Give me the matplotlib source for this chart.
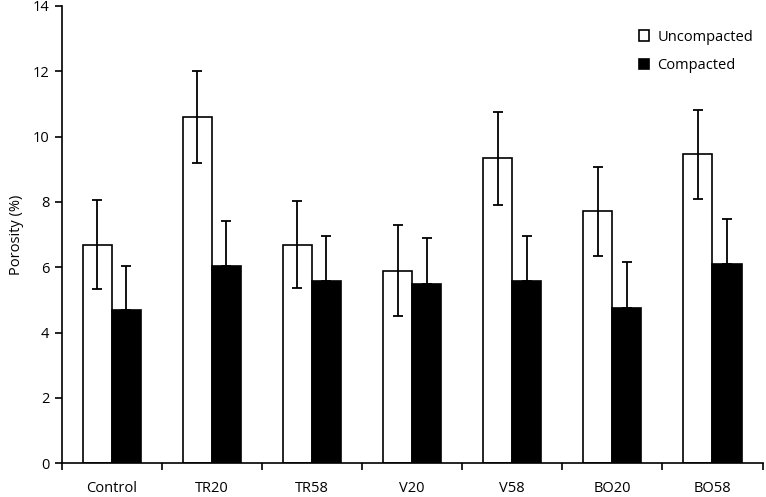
import numpy as np
import matplotlib
matplotlib.use("Agg")
import matplotlib.pyplot as plt

# data
categories = ["Control", "TR20", "TR58", "V20", "V58", "BO20", "BO58"]
uncompacted = [6.69, 10.60, 6.69, 5.90, 9.34, 7.71, 9.46]
uncompacted_err = [1.37, 1.42, 1.34, 1.40, 1.42, 1.36, 1.36]
compacted = [4.70, 6.05, 5.58, 5.48, 5.59, 4.74, 6.10]
compacted_err = [1.35, 1.38, 1.38, 1.43, 1.38, 1.43, 1.37]

plt.rcParams['font.family'] = ['Open Sans', 'DejaVu Sans']
fs = 10.5

fig = plt.figure(figsize=(7.66, 4.97), dpi=100)
ax = fig.add_axes([0.0805, 0.068, 0.915, 0.92])

x = np.arange(len(categories))
w = 0.29

ax.bar(x - w/2, uncompacted, w, color="white", edgecolor="black", linewidth=1.2,
       label="Uncompacted", zorder=2)
ax.bar(x + w/2, compacted, w, color="black", edgecolor="black", linewidth=1.2,
       label="Compacted", zorder=2)

ax.errorbar(x - w/2, uncompacted, yerr=uncompacted_err, fmt="none", ecolor="black",
            elinewidth=1.3, capsize=3.6, capthick=1.3, zorder=3)
ax.errorbar(x + w/2, compacted, yerr=[np.zeros(len(compacted)), compacted_err], fmt="none",
            ecolor="black", elinewidth=1.3, capsize=3.6, capthick=1.3, zorder=3)

ax.set_xlim(-0.5, len(categories) - 0.5)
ax.set_ylim(0, 14)
ax.set_yticks(np.arange(0, 15, 2))
ax.set_xticks(x)
ax.set_xticklabels(categories)
ax.set_xticks(np.arange(-0.5, len(categories) + 0.5, 1), minor=True)
ax.tick_params(axis="x", which="major", length=0, pad=13, labelsize=fs)
ax.tick_params(axis="x", which="minor", length=5, width=1.2, direction="out")
ax.tick_params(axis="y", length=5, width=1.2, direction="out", labelsize=fs, pad=4)

for s in ["top", "right"]:
    ax.spines[s].set_visible(False)
ax.spines["left"].set_linewidth(1.2)
ax.spines["bottom"].set_linewidth(1.2)

ax.set_ylabel("Porosity (%)", fontsize=fs, labelpad=6)

ax.legend(loc="upper right", frameon=False, fontsize=fs, handlelength=0.7,
          handleheight=0.7, handletextpad=0.55, labelspacing=0.95,
          bbox_to_anchor=(1.005, 0.977))

fig.savefig("out.png", dpi=100)
